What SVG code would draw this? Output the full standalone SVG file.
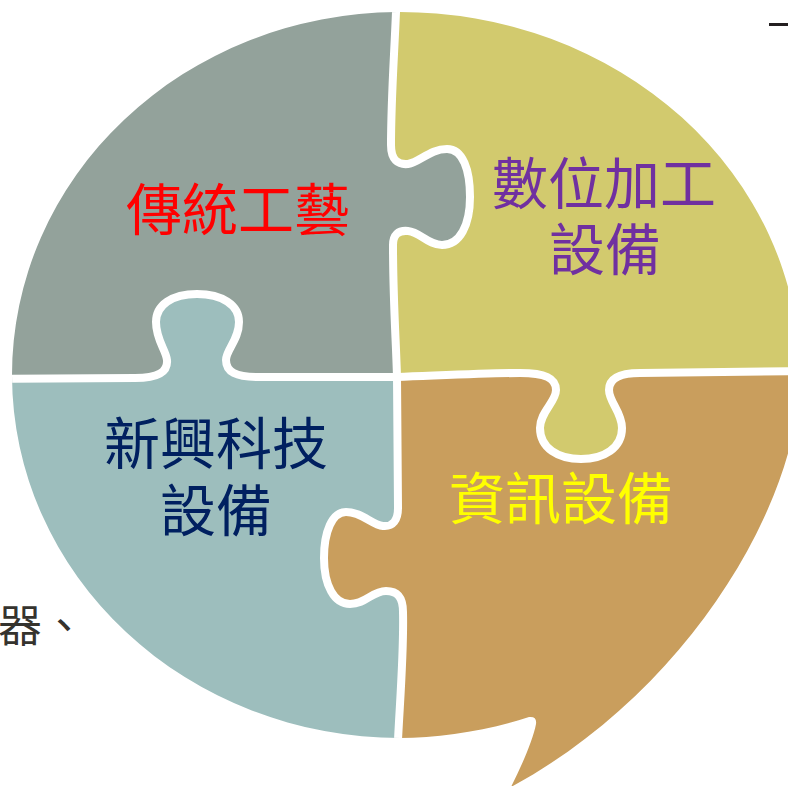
<svg xmlns="http://www.w3.org/2000/svg" width="788" height="786" viewBox="0 0 788 786">
<style>
.lbl{font-family:"Noto Sans CJK TC","Noto Sans CJK SC",sans-serif;font-size:56px;text-anchor:middle}
.cut{fill:none;stroke:#FFFFFF;stroke-width:8;stroke-linejoin:round}
</style>
<defs>
<clipPath id="outer"><path d="M 397 12 A 400 363 0 0 1 800 375 C 800 500 690 690 511 787 C 522 765 533 740 536 724 Q 537 716 529 717 C 490 730 440 738 400 738 A 388 363 0 0 1 12 376 A 388 363 0 0 1 397 12 Z"/></clipPath>
<clipPath id="leftV"><path d="M 396 -10 L 396 12 C 394 60 391 100 391 145 C 391 160 398 165 408 164 C 420 162 430 149 447 149 C 463 149 470 170 470 197 C 470 225 460 245 442 245 C 428 245 420 232 408 231 C 398 230 393 235 393 245 C 393 300 396 340 397 377 L 398 508 C 398 520 393 527 383 526 C 372 525 362 512 346 512 C 332 512 324 532 324 558 C 324 585 334 604 350 604 C 366 604 372 591 386 591 C 398 591 403 598 403 612 C 404 650 400 700 398 740 L 398 800 L -10 800 L -10 -10 Z"/></clipPath>
<clipPath id="rightV"><path d="M 396 -10 L 396 12 C 394 60 391 100 391 145 C 391 160 398 165 408 164 C 420 162 430 149 447 149 C 463 149 470 170 470 197 C 470 225 460 245 442 245 C 428 245 420 232 408 231 C 398 230 393 235 393 245 C 393 300 396 340 397 377 L 398 508 C 398 520 393 527 383 526 C 372 525 362 512 346 512 C 332 512 324 532 324 558 C 324 585 334 604 350 604 C 366 604 372 591 386 591 C 398 591 403 598 403 612 C 404 650 400 700 398 740 L 398 800 L 800 800 L 800 -10 Z"/></clipPath>
<clipPath id="aboveH"><path d="M -10 379 L 135 378 C 158 378 168 372 167 360 C 166 350 156 340 156 322 C 156 305 172 294 197 294 C 222 294 239 305 239 322 C 239 340 226 350 226 360 C 226 372 236 377 258 377 L 397 377 C 450 375 490 373 520 373 C 545 373 556 378 556 390 C 556 402 540 412 540 428 C 540 448 558 459 581 459 C 604 459 622 448 622 428 C 622 412 609 402 609 390 C 609 378 620 373 640 373 L 800 371 L 800 -10 L -10 -10 Z"/></clipPath>
<clipPath id="belowH"><path d="M -10 379 L 135 378 C 158 378 168 372 167 360 C 166 350 156 340 156 322 C 156 305 172 294 197 294 C 222 294 239 305 239 322 C 239 340 226 350 226 360 C 226 372 236 377 258 377 L 397 377 C 450 375 490 373 520 373 C 545 373 556 378 556 390 C 556 402 540 412 540 428 C 540 448 558 459 581 459 C 604 459 622 448 622 428 C 622 412 609 402 609 390 C 609 378 620 373 640 373 L 800 371 L 800 800 L -10 800 Z"/></clipPath>
</defs>

<g clip-path="url(#outer)">
  <g id="piece-traditional" clip-path="url(#aboveH)">
    <rect x="-10" y="-10" width="820" height="820" fill="#93A29B" clip-path="url(#leftV)"/>
  </g>
  <g id="piece-digital" clip-path="url(#aboveH)">
    <rect x="-10" y="-10" width="820" height="820" fill="#D2CA6E" clip-path="url(#rightV)"/>
  </g>
  <g id="piece-emerging" clip-path="url(#belowH)">
    <rect x="-10" y="-10" width="820" height="820" fill="#9DBEBD" clip-path="url(#leftV)"/>
  </g>
  <g id="piece-info" clip-path="url(#belowH)">
    <rect x="-10" y="-10" width="820" height="820" fill="#C99E5D" clip-path="url(#rightV)"/>
  </g>
  <g id="connectors">
    <path class="cut" d="M 396 -10 L 396 12 C 394 60 391 100 391 145 C 391 160 398 165 408 164 C 420 162 430 149 447 149 C 463 149 470 170 470 197 C 470 225 460 245 442 245 C 428 245 420 232 408 231 C 398 230 393 235 393 245 C 393 300 396 340 397 377 L 398 508 C 398 520 393 527 383 526 C 372 525 362 512 346 512 C 332 512 324 532 324 558 C 324 585 334 604 350 604 C 366 604 372 591 386 591 C 398 591 403 598 403 612 C 404 650 400 700 398 740 L 398 800"/>
    <path class="cut" d="M -10 379 L 135 378 C 158 378 168 372 167 360 C 166 350 156 340 156 322 C 156 305 172 294 197 294 C 222 294 239 305 239 322 C 239 340 226 350 226 360 C 226 372 236 377 258 377 L 397 377 C 450 375 490 373 520 373 C 545 373 556 378 556 390 C 556 402 540 412 540 428 C 540 448 558 459 581 459 C 604 459 622 448 622 428 C 622 412 609 402 609 390 C 609 378 620 373 640 373 L 800 371"/>
  </g>
</g>

<g id="label-traditional"><text class="lbl" x="238" y="230" fill="#FF0000">傳統工藝</text></g>
<g id="label-digital">
  <text class="lbl" x="604" y="204" fill="#7030A0">數位加工</text>
  <text class="lbl" x="605" y="270" fill="#7030A0">設備</text>
</g>
<g id="label-emerging">
  <text class="lbl" x="216" y="464" fill="#002060">新興科技</text>
  <text class="lbl" x="216" y="531" fill="#002060">設備</text>
</g>
<g id="label-info"><text class="lbl" x="561" y="519" fill="#FFFF00">資訊設備</text></g>

<g id="side-text">
  <text x="-2" y="642" font-family="Noto Sans CJK TC, sans-serif" font-size="44" fill="#35332E">器、</text>
</g>
<g id="top-right-fragment">
  <rect x="769" y="23" width="19" height="3" fill="#231F20"/>
</g>
</svg>
